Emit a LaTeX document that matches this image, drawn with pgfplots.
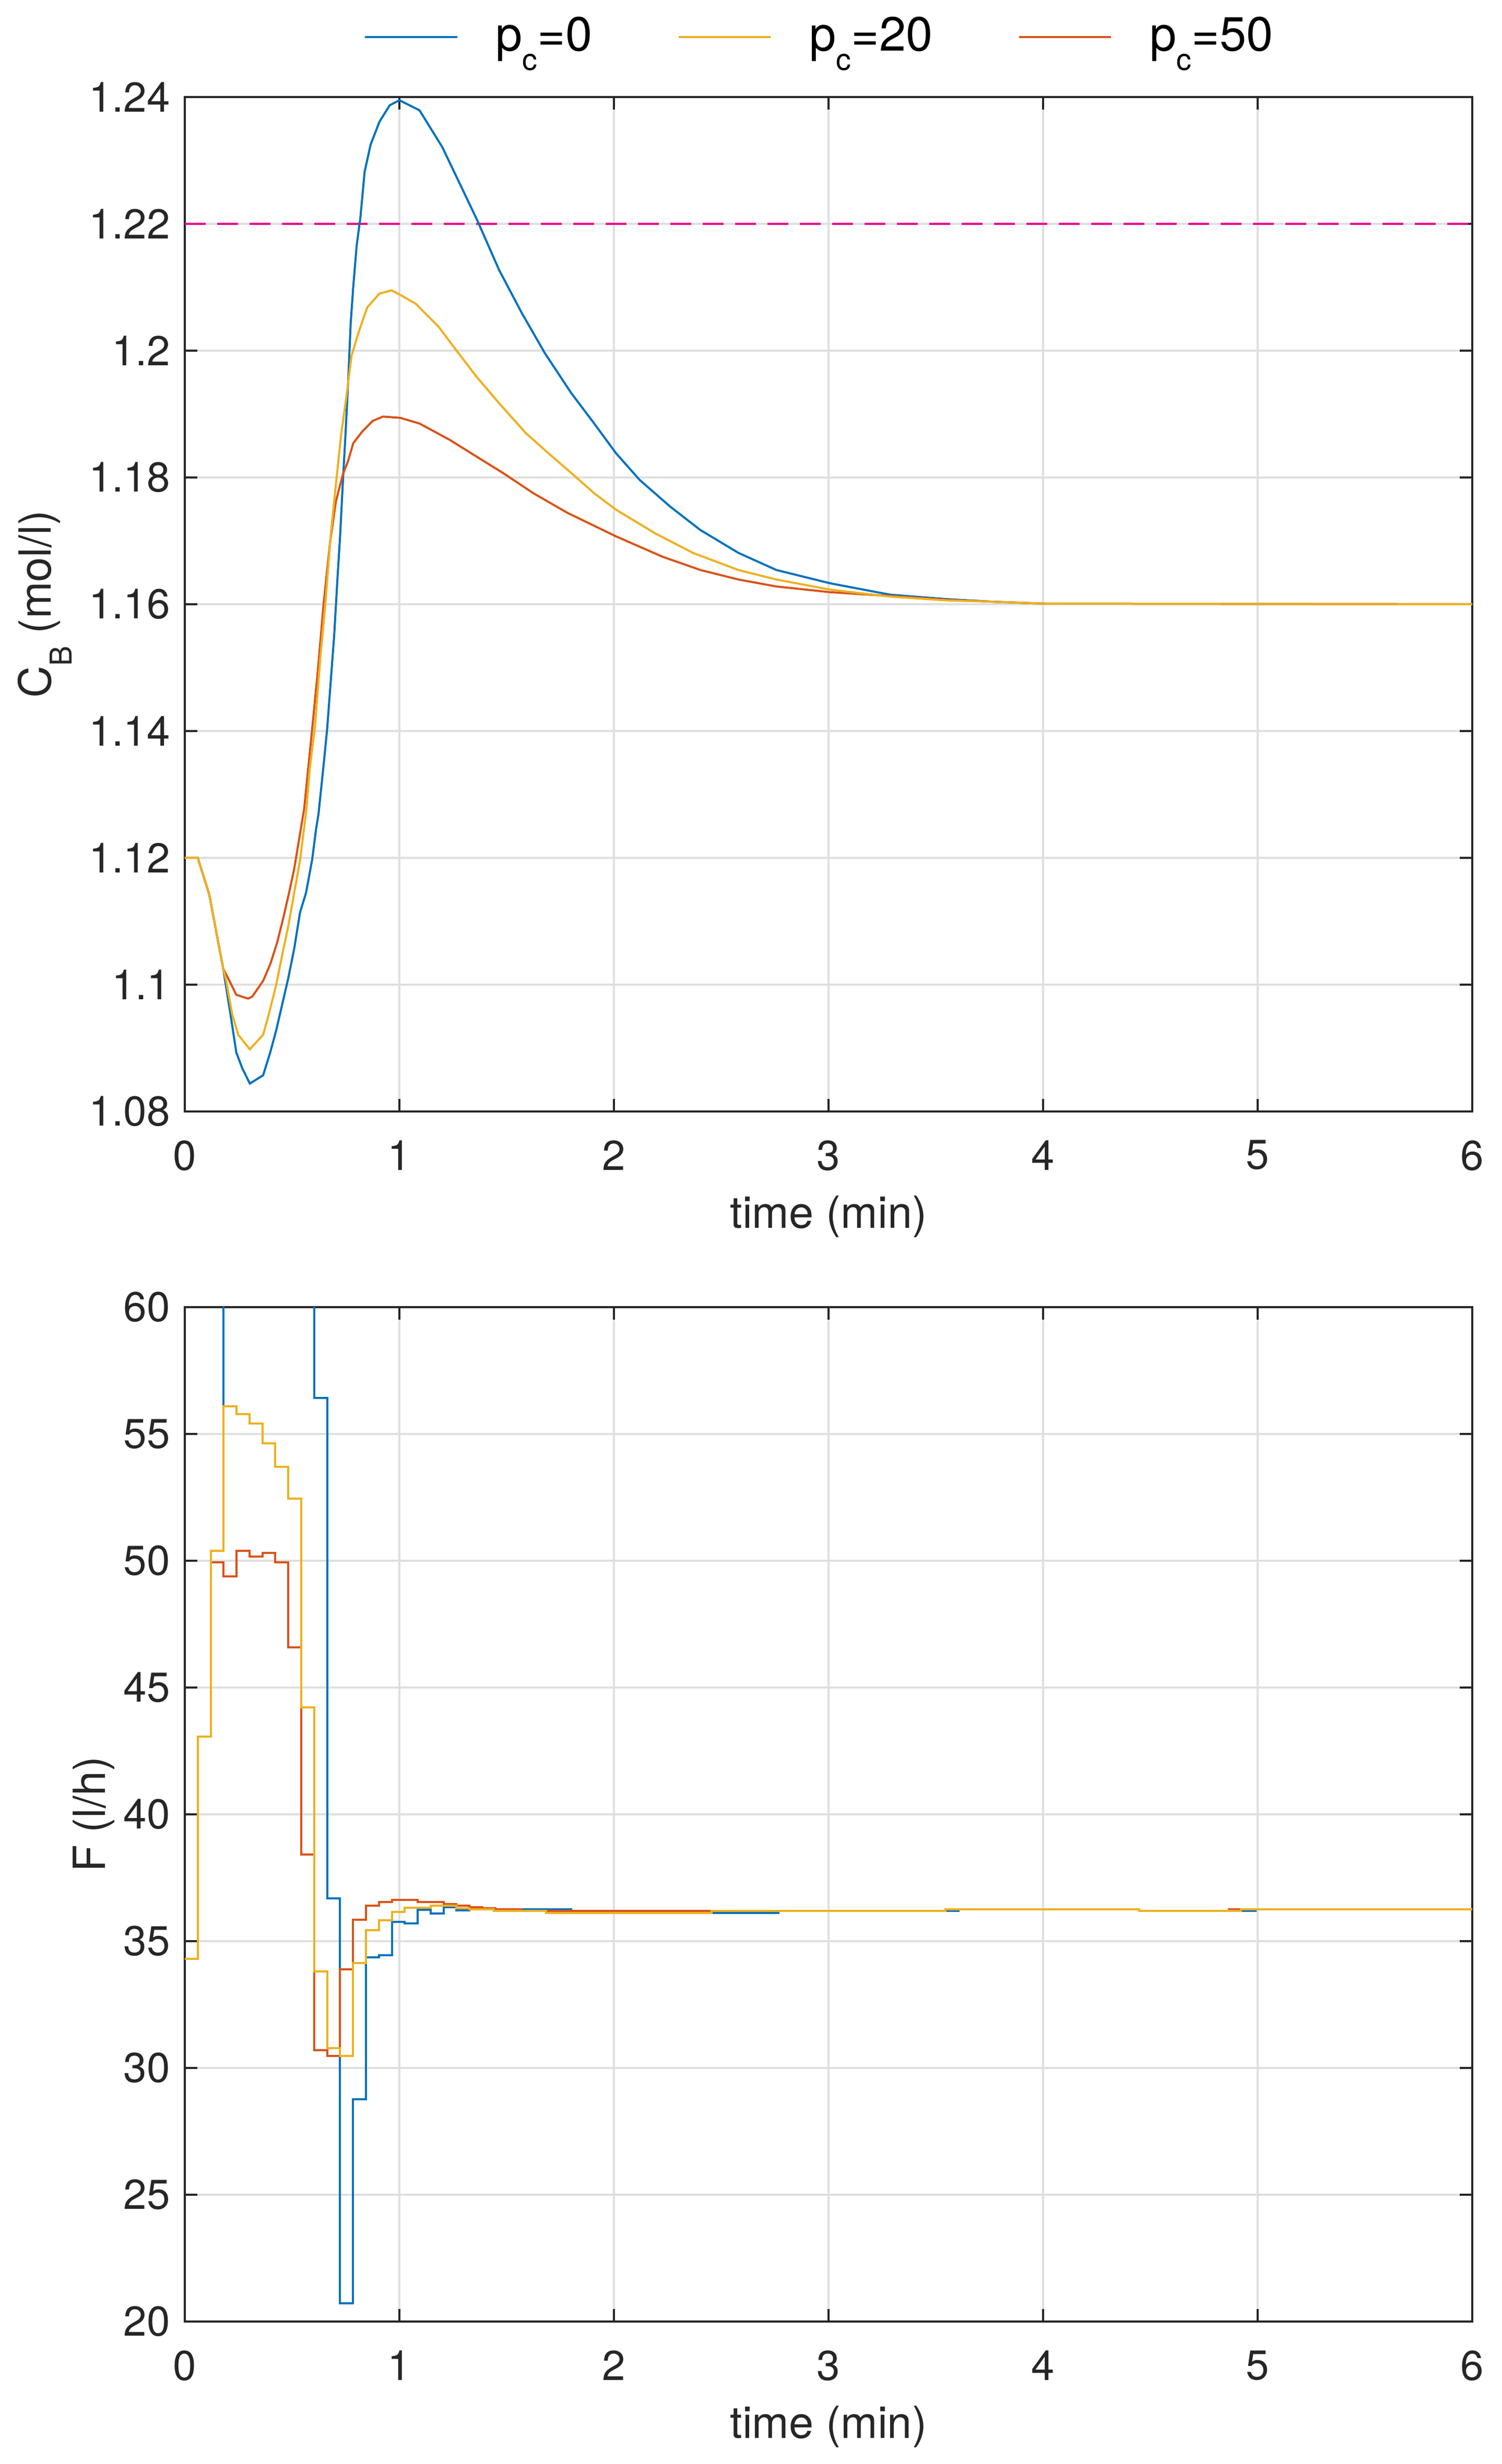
\documentclass[border=0pt]{standalone}
\usepackage{pgfplots}
\pgfplotsset{compat=1.18}
\usepackage{fontspec}
\setmainfont{TeX Gyre Heros}
\definecolor{mblue}{HTML}{0072BD}
\definecolor{mred}{HTML}{D95319}
\definecolor{myel}{HTML}{EDB120}
\definecolor{axgray}{RGB}{38,38,38}
\definecolor{gridgray}{RGB}{223,223,223}
\newcommand{\lsub}[1]{\raisebox{-4.6pt}{\fontsize{7.2}{8}\selectfont #1}}
\newcommand{\ysub}[1]{\raisebox{-5.0pt}{\fontsize{7.2}{8}\selectfont #1}}

\pgfplotsset{
  mystyle/.style={
    scale only axis, width=308.25pt, height=243pt,
    xmin=0, xmax=6, xtick={0,1,2,3,4,5,6},
    grid=major, major grid style={gridgray, line width=0.4pt},
    axis line style={axgray, line width=0.45pt},
    tick style={axgray, line width=0.45pt},
    major tick length=3pt,
    tick align=inside, tick pos=both,
    ticklabel style={font=\fontsize{10}{12}\selectfont, text=axgray},
    xticklabel style={yshift=-3.4pt},
    /pgf/number format/assume math mode=true,
    label style={font=\fontsize{10.6}{12}\selectfont, text=axgray},
    xlabel={time (min)},
    xlabel style={at={(axis description cs:0.5,0)}, anchor=base, yshift=-27.9pt},
    no markers,
  }
}

\begin{document}
\begin{tikzpicture}
\begin{axis}[mystyle, at={(0pt,0pt)}, anchor=south west,
  ymin=1.08, ymax=1.24,
  ytick={1.08,1.10,1.12,1.14,1.16,1.18,1.20,1.22,1.24},
  yticklabels={1.08,1.1,1.12,1.14,1.16,1.18,1.2,1.22,1.24},
  ylabel={C\ysub{B} (mol/l)},
  ylabel style={at={(axis description cs:-0.1042,0.5)}, anchor=base, rotate=0},
  legend style={at={(axis description cs:0.4955,1.0593)}, anchor=center,
    draw=none, fill=none, legend columns=3,
    font=\fontsize{11.5}{13}\selectfont,
    /tikz/every even column/.append style={column sep=18.5pt},
    /tikz/every odd column/.append style={column sep=7pt}},
  legend image code/.code={\draw[#1] (0pt,0pt) -- (22pt,0pt);},
]
\addlegendimage{mblue, line width=0.5pt}
\addlegendimage{myel, line width=0.5pt}
\addlegendimage{mred, line width=0.5pt}
\legend{p\lsub{c}=0, p\lsub{c}=20, p\lsub{c}=50}

\addplot[magenta, line width=0.5pt, dash pattern=on 5pt off 2.75pt, forget plot] coordinates {(0,1.22) (6,1.22)};

\addplot[mblue, line width=0.5pt, forget plot] coordinates {
(0,1.12)(0.0603,1.12)(0.114,1.1142)(0.179,1.1025)(0.188,1.1006)(0.212,1.0955)(0.240,1.0893)(0.268,1.0868)(0.303,1.0844)(0.365,1.0857)(0.398,1.0893)(0.426,1.0928)(0.454,1.0969)(0.482,1.1010)(0.510,1.1057)(0.537,1.1114)(0.565,1.1145)(0.593,1.1196)(0.612,1.1246)(0.623,1.1269)(0.647,1.1347)(0.663,1.1402)(0.680,1.1478)(0.696,1.155)(0.712,1.1644)(0.724,1.1709)(0.736,1.1789)(0.749,1.1869)(0.761,1.1949)(0.773,1.2043)(0.785,1.2101)(0.801,1.2166)(0.818,1.2209)(0.838,1.2282)(0.866,1.2325)(0.907,1.2361)(0.955,1.2387)(1.0,1.2395)(1.094,1.2379)(1.200,1.2321)(1.289,1.2258)(1.365,1.2204)(1.465,1.2127)(1.571,1.2059)(1.678,1.1996)(1.801,1.1933)(1.908,1.1885)(2.010,1.1838)(2.120,1.1796)(2.262,1.1754)(2.403,1.1717)(2.580,1.1681)(2.757,1.1654)(3.008,1.1633)(3.288,1.1615)(3.553,1.1608)(3.762,1.1604)(4.0,1.1601)(6,1.16)};

\addplot[mred, line width=0.5pt, forget plot] coordinates {
(0,1.12)(0.0603,1.12)(0.114,1.1142)(0.179,1.1025)(0.202,1.1010)(0.240,1.0984)(0.295,1.0978)(0.314,1.0981)(0.365,1.1006)(0.398,1.1032)(0.430,1.1066)(0.458,1.1104)(0.486,1.1145)(0.510,1.1183)(0.533,1.1230)(0.556,1.1277)(0.594,1.1405)(0.619,1.1492)(0.647,1.1601)(0.676,1.1695)(0.704,1.1762)(0.736,1.1804)(0.761,1.1826)(0.785,1.1854)(0.826,1.1872)(0.875,1.1889)(0.923,1.1896)(1.004,1.1894)(1.094,1.1885)(1.236,1.1859)(1.359,1.1833)(1.483,1.1807)(1.625,1.1775)(1.784,1.1744)(2.010,1.1707)(2.226,1.1675)(2.403,1.1654)(2.580,1.1639)(2.757,1.1628)(3.008,1.1619)(3.288,1.1613)(3.553,1.1607)(3.762,1.1604)(4.0,1.1601)(6,1.16)};

\addplot[myel, line width=0.5pt, forget plot] coordinates {
(0,1.12)(0.0603,1.12)(0.114,1.1142)(0.179,1.1025)(0.193,1.1006)(0.221,1.0953)(0.249,1.0921)(0.303,1.0898)(0.365,1.0921)(0.389,1.0950)(0.426,1.1000)(0.454,1.1047)(0.482,1.1092)(0.510,1.1145)(0.537,1.1196)(0.567,1.1277)(0.582,1.134)(0.606,1.1405)(0.631,1.1514)(0.655,1.1601)(0.680,1.1709)(0.704,1.1789)(0.729,1.1869)(0.753,1.1927)(0.777,1.1992)(0.809,1.2028)(0.850,1.2068)(0.907,1.2090)(0.964,1.2095)(1.004,1.2088)(1.076,1.2074)(1.182,1.2038)(1.253,1.2006)(1.359,1.1959)(1.465,1.1917)(1.589,1.1870)(1.695,1.1838)(1.801,1.1807)(1.908,1.1775)(2.010,1.1749)(2.191,1.1712)(2.368,1.1681)(2.580,1.1654)(2.757,1.1639)(3.008,1.1623)(3.288,1.1612)(3.553,1.1606)(3.762,1.1604)(4.0,1.1601)(6,1.16)};
\end{axis}

\begin{axis}[mystyle, at={(0pt,-289.875pt)}, anchor=south west,
  ymin=20, ymax=60, ytick={20,25,30,35,40,45,50,55,60},
  ylabel={F (l/h)},
  ylabel style={at={(axis description cs:-0.062,0.5)}, anchor=base, rotate=0},
]
\addplot[mblue, line width=0.5pt, const plot] coordinates {
(0,34.3)(0.0603,43.06)(0.1206,50.39)(0.1809,72)(0.2412,75)(0.3015,74)(0.3618,72)(0.4221,70)(0.4824,66)(0.5427,62)(0.603,56.42)(0.6633,36.69)(0.7236,20.73)(0.7839,28.76)(0.8442,34.37)(0.9045,34.45)(0.9648,35.76)(1.0251,35.70)(1.0854,36.24)(1.1457,36.10)(1.206,36.34)(1.2663,36.22)(1.3266,36.26)(1.8,36.19)(2.15,36.11)(2.766,36.19)(3.605,36.26)(4.447,36.19)(4.99,36.26)(6,36.26)};
\addplot[mred, line width=0.5pt, const plot] coordinates {
(0,34.3)(0.0603,43.06)(0.1206,49.93)(0.1809,49.38)(0.2412,50.39)(0.3015,50.17)(0.3618,50.31)(0.4221,49.93)(0.4824,46.58)(0.5427,38.42)(0.603,30.70)(0.6633,30.47)(0.7236,33.89)(0.7839,35.84)(0.8442,36.40)(0.9045,36.55)(0.9648,36.63)(1.0854,36.55)(1.206,36.46)(1.2663,36.40)(1.3266,36.34)(1.3869,36.30)(1.4472,36.26)(1.5678,36.19)(3.545,36.26)(4.447,36.19)(4.867,36.26)(6,36.26)};
\addplot[myel, line width=0.5pt, const plot] coordinates {
(0,34.3)(0.0603,43.06)(0.1206,50.39)(0.1809,56.10)(0.2412,55.79)(0.3015,55.41)(0.3618,54.62)(0.4221,53.70)(0.4824,52.44)(0.5427,44.21)(0.603,33.81)(0.6633,30.79)(0.7236,30.47)(0.7839,34.13)(0.8442,35.44)(0.9045,35.82)(0.9648,36.16)(1.0251,36.31)(1.1457,36.40)(1.2663,36.30)(1.3266,36.26)(1.441,36.19)(1.683,36.11)(2.455,36.19)(3.545,36.26)(4.447,36.19)(4.922,36.26)(6,36.26)};
\end{axis}
\pgfresetboundingbox
\path[use as bounding box] (-44.25pt,-324pt) rectangle (315.25pt,266.25pt);
\end{tikzpicture}
\end{document}
